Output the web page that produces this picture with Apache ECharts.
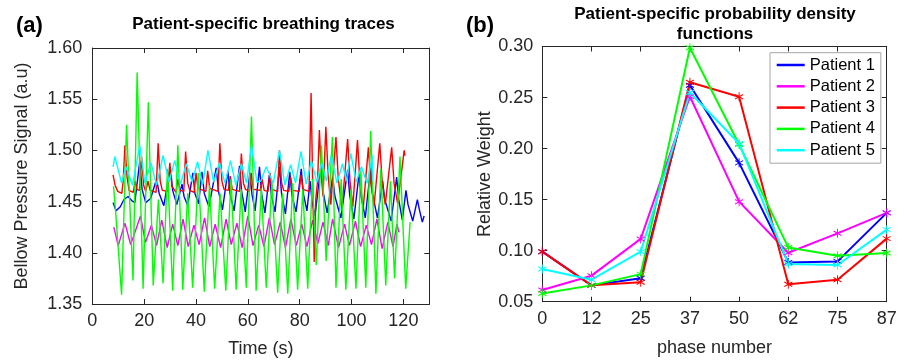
<!DOCTYPE html>
<html><head><meta charset="utf-8">
<script src="https://cdn.jsdelivr.net/npm/echarts@6/dist/echarts.min.js"></script>
<style>html,body{margin:0;padding:0;background:#fff}#c{width:909px;height:363px}</style>
</head><body><div id="c"></div>
<script>
const patientNames = ['Patient 1', 'Patient 2', 'Patient 3', 'Patient 4', 'Patient 5'];
const colors = ['#0000ff', '#ff00ff', '#ff0000', '#00ff00', '#00ffff'];

// Panel (a): breathing traces, [time (s), bellow pressure (a.u)]
const trace1 = [[8.0,1.449],[9.2,1.441],[10.8,1.445],[12.2,1.452],[13.8,1.455],[15.2,1.451],
 [16.4,1.449],[18.3,1.489],[19.2,1.462],[20.6,1.449],[22.5,1.453],[24.8,1.472],[25.8,1.458],
 [27.6,1.446],[30.1,1.484],[31.0,1.461],[32.6,1.447],[34.6,1.467],[35.4,1.455],[36.8,1.446],
 [38.8,1.478],[39.6,1.458],[41.0,1.448],[42.3,1.479],[43.2,1.458],[45.0,1.445],[47.8,1.483],
 [48.7,1.460],[50.2,1.442],[52.3,1.480],[53.1,1.458],[54.7,1.441],[56.8,1.485],[57.6,1.460],
 [59.0,1.440],[60.8,1.478],[61.6,1.457],[62.8,1.441],[64.5,1.484],[65.3,1.458],[66.6,1.439],
 [68.3,1.476],[69.1,1.456],[70.5,1.440],[72.2,1.484],[73.0,1.458],[74.5,1.438],[76.2,1.479],
 [77.0,1.456],[78.6,1.440],[80.6,1.482],[81.4,1.458],[82.8,1.441],[84.0,1.470],[84.8,1.450],
 [85.9,1.436],[88.2,1.485],[89.0,1.460],[90.6,1.439],[92.7,1.474],[93.6,1.455],[95.9,1.434],
 [98.5,1.481],[99.3,1.456],[100.9,1.433],[102.9,1.477],[103.7,1.455],[105.3,1.434],[107.4,1.484],
 [108.2,1.456],[110.0,1.434],[112.0,1.470],[112.8,1.452],[115.3,1.431],[117.4,1.474],[118.2,1.452],
 [119.6,1.432],[121.0,1.461],[121.8,1.447],[123.6,1.431],[125.4,1.452],[126.2,1.442],[127.3,1.430],[128.0,1.436]];
const trace2 = [[8.3,1.425],[10.0,1.407],[12.6,1.429],[14.8,1.408],[18.6,1.436],[20.5,1.410],
 [22.8,1.427],[24.8,1.407],[26.8,1.432],[28.9,1.405],[31.0,1.428],[33.0,1.407],[35.0,1.433],
 [37.0,1.406],[39.2,1.427],[41.2,1.408],[43.3,1.434],[45.3,1.406],[47.4,1.428],[49.5,1.405],
 [51.6,1.433],[53.6,1.408],[55.8,1.429],[57.8,1.405],[60.0,1.436],[62.0,1.407],[64.2,1.427],
 [66.2,1.406],[68.3,1.434],[70.3,1.408],[72.5,1.430],[74.5,1.405],[76.6,1.433],[78.7,1.407],
 [80.8,1.428],[82.8,1.406],[85.0,1.432],[87.0,1.409],[89.0,1.430],[91.0,1.407],[92.7,1.433],
 [95.0,1.405],[97.3,1.428],[99.2,1.407],[101.5,1.431],[103.5,1.406],[105.7,1.427],[107.7,1.408],
 [109.8,1.433],[111.8,1.404],[114.0,1.430],[116.0,1.406],[117.5,1.428],[118.3,1.420]];
const trace3 = [[8.0,1.476],[8.8,1.466],[9.8,1.460],[11.4,1.458],[11.9,1.470],[12.6,1.505],[13.4,1.474],
 [14.2,1.461],[15.8,1.459],[16.5,1.470],[17.2,1.462],[18.2,1.461],[19.0,1.494],[19.8,1.466],[20.6,1.460],
 [21.5,1.470],[22.3,1.461],[24.6,1.459],[25.4,1.507],[26.2,1.470],[27.0,1.461],[29.1,1.460],[29.9,1.488],
 [30.7,1.465],[32.3,1.459],[33.0,1.472],[33.8,1.461],[35.3,1.460],[36.0,1.499],[36.8,1.468],[37.6,1.461],
 [39.3,1.459],[40.0,1.478],[40.8,1.463],[43.8,1.460],[44.5,1.480],[45.3,1.463],[48.5,1.460],[49.2,1.507],
 [50.0,1.470],[50.8,1.462],[52.5,1.461],[53.2,1.475],[54.0,1.462],[56.8,1.460],[57.5,1.497],[58.3,1.468],
 [59.1,1.462],[60.6,1.460],[61.3,1.478],[62.1,1.462],[64.8,1.461],[65.5,1.472],[66.3,1.461],[67.8,1.460],
 [68.5,1.478],[69.3,1.462],[71.5,1.460],[72.2,1.500],[73.0,1.469],[73.8,1.461],[75.8,1.460],[76.5,1.474],
 [77.3,1.461],[79.8,1.460],[80.5,1.476],[81.3,1.462],[83.6,1.460],[84.4,1.556],[85.0,1.470],[85.6,1.391],
 [86.2,1.452],[86.9,1.470],[87.6,1.520],[88.4,1.475],[89.0,1.455],[90.1,1.523],[91.0,1.475],[92.0,1.447],
 [94.0,1.513],[94.9,1.472],[96.3,1.443],[98.5,1.511],[99.4,1.470],[100.5,1.445],[102.3,1.510],[103.2,1.470],
 [104.5,1.443],[106.5,1.503],[107.4,1.468],[108.7,1.446],[110.9,1.507],[111.8,1.470],[113.0,1.447],
 [115.5,1.503],[116.4,1.468],[117.8,1.448],[120.3,1.500],[120.6,1.495]];
const trace4 = [[8.2,1.465],[9.0,1.440],[11.3,1.359],[13.2,1.525],[15.7,1.373],[17.3,1.576],[19.6,1.365],
 [21.6,1.547],[23.5,1.368],[25.5,1.452],[27.3,1.370],[29.0,1.482],[31.0,1.363],[33.0,1.505],[34.9,1.364],
 [36.8,1.458],[38.7,1.366],[40.9,1.478],[43.2,1.362],[45.2,1.466],[47.2,1.365],[49.3,1.458],[51.5,1.363],
 [53.5,1.472],[55.5,1.364],[57.4,1.462],[59.4,1.366],[61.4,1.533],[63.2,1.363],[65.2,1.463],[67.1,1.366],
 [69.3,1.470],[71.5,1.361],[73.4,1.458],[75.4,1.360],[77.3,1.468],[79.2,1.364],[81.2,1.462],[83.1,1.365],
 [84.9,1.472],[86.4,1.388],[88.4,1.505],[90.2,1.392],[92.6,1.513],[94.0,1.366],[96.0,1.472],[97.8,1.364],
 [99.8,1.462],[101.7,1.365],[103.6,1.480],[105.5,1.366],[107.4,1.519],[109.4,1.360],[111.3,1.482],
 [113.2,1.368],[115.0,1.470],[116.6,1.375],[118.7,1.494],[120.9,1.365],[122.6,1.430]];
const trace5 = [[8.0,1.484],[8.7,1.494],[11.3,1.468],[13.0,1.484],[15.5,1.466],[18.3,1.505],[20.3,1.468],
 [22.6,1.488],[24.8,1.466],[27.3,1.495],[29.6,1.469],[31.8,1.490],[34.0,1.467],[36.3,1.487],[38.5,1.469],
 [40.6,1.489],[42.6,1.467],[44.6,1.500],[46.8,1.469],[49.0,1.488],[51.2,1.468],[53.3,1.490],[55.4,1.466],
 [57.5,1.487],[59.5,1.468],[61.4,1.505],[63.5,1.469],[65.0,1.470],[67.1,1.484],[69.8,1.468],[72.2,1.500],
 [74.3,1.466],[76.5,1.486],[78.4,1.468],[80.5,1.499],[82.5,1.467],[84.5,1.490],[86.6,1.469],[88.5,1.488],
 [90.3,1.470],[92.1,1.495],[94.4,1.468],[96.5,1.487],[98.0,1.470],[99.7,1.497],[101.8,1.469],[103.8,1.484],
 [106.0,1.468],[108.1,1.495],[108.2,1.470]];

// Panel (b): probability density functions
const phaseLabels = ['0', '12', '25', '37', '50', '62', '75', '87'];
const pdf1 = [0.099, 0.066, 0.073, 0.262, 0.186, 0.0885, 0.0895, 0.137];
const pdf2 = [0.0615, 0.0755, 0.1115, 0.251, 0.148, 0.098, 0.117, 0.137];
const pdf3 = [0.099, 0.066, 0.069, 0.265, 0.2507, 0.067, 0.0716, 0.1118];
const pdf4 = [0.058, 0.066, 0.077, 0.2987, 0.204, 0.103, 0.095, 0.0977];
const pdf5 = [0.082, 0.0716, 0.099, 0.255, 0.205, 0.087, 0.086, 0.1206];

const traces = [trace1, trace2, trace3, trace4, trace5];
const pdfs = [pdf1, pdf2, pdf3, pdf4, pdf5];

const FONT = '"Liberation Sans", Arial, Helvetica, sans-serif';
const INK = '#262626';
const TICKFS = 18;
const axisCommon = {
  axisLine: { show: true, onZero: false, lineStyle: { color: INK, width: 1 } },
  axisTick: { show: true, inside: true, length: 5, lineStyle: { color: INK } },
  splitLine: { show: false },
  axisLabel: { color: INK, fontSize: TICKFS, fontFamily: FONT },
  nameTextStyle: { color: INK, fontSize: 18, fontFamily: FONT }
};
function ax(extra) { return Object.assign({}, JSON.parse(JSON.stringify(axisCommon)), extra); }
const fmt2 = v => v.toFixed(2);

const asterisk = 'path://M0,-5L0,5M-4.33,-2.5L4.33,2.5M-4.33,2.5L4.33,-2.5';

const series = [];
traces.forEach((t, i) => {
  series.push({ type: 'line', name: 'trace' + (i + 1), xAxisIndex: 0, yAxisIndex: 0, data: t,
    showSymbol: false, symbol: 'none', lineStyle: { color: colors[i], width: 1.4 }, itemStyle: { color: colors[i] }, silent: true });
});
pdfs.forEach((p, i) => {
  series.push({ type: 'line', name: patientNames[i], xAxisIndex: 2, yAxisIndex: 2, data: p,
    symbol: asterisk, symbolSize: [8, 9], showSymbol: true,
    lineStyle: { color: colors[i], width: 2 },
    itemStyle: { color: colors[i], borderColor: colors[i], borderWidth: 1 } });
});

const chart = echarts.init(document.getElementById('c'), null, { renderer: 'canvas' });
chart.setOption({
  animation: false,
  backgroundColor: '#ffffff',
  grid: [
    { left: 92.3, top: 48, width: 337, height: 256.7 },
    { left: 542.3, top: 46.5, width: 344.4, height: 255.2 }
  ],
  xAxis: [
    ax({ type: 'value', gridIndex: 0, min: 0, max: 130, interval: 20, position: 'bottom',
         axisLabel: { color: INK, fontSize: TICKFS, fontFamily: FONT, margin: 8, showMaxLabel: false },
         name: 'Time (s)', nameLocation: 'middle', nameGap: 36 }),
    ax({ type: 'value', gridIndex: 0, min: 0, max: 130, interval: 20, position: 'top', axisLabel: { show: false } }),
    ax({ type: 'category', gridIndex: 1, data: phaseLabels, boundaryGap: false, position: 'bottom',
         axisLabel: { color: INK, fontSize: TICKFS, fontFamily: FONT, margin: 8, interval: 0 },
         name: 'phase number', nameLocation: 'middle', nameGap: 37 }),
    ax({ type: 'category', gridIndex: 1, data: phaseLabels, boundaryGap: false, position: 'top', axisLabel: { show: false } })
  ],
  yAxis: [
    ax({ type: 'value', gridIndex: 0, min: 1.35, max: 1.60, interval: 0.05, position: 'left',
         axisLabel: { color: INK, fontSize: TICKFS, fontFamily: FONT, margin: 10, formatter: fmt2 },
         name: 'Bellow Pressure Signal (a.u)', nameLocation: 'middle', nameGap: 61 }),
    ax({ type: 'value', gridIndex: 0, min: 1.35, max: 1.60, interval: 0.05, position: 'right', axisLabel: { show: false } }),
    ax({ type: 'value', gridIndex: 1, min: 0.05, max: 0.30, interval: 0.05, position: 'left',
         axisLabel: { color: INK, fontSize: TICKFS, fontFamily: FONT, margin: 9, formatter: fmt2 },
         name: 'Relative Weight', nameLocation: 'middle', nameGap: 46 }),
    ax({ type: 'value', gridIndex: 1, min: 0.05, max: 0.30, interval: 0.05, position: 'right', axisLabel: { show: false } })
  ],
  legend: {
    data: patientNames, orient: 'vertical', left: 770, top: 52.7,
    padding: [3.3, 6, 4, 6.7], itemGap: 3.3, itemWidth: 28, itemHeight: 2.5, icon: 'rect',
    itemStyle: { borderWidth: 0 },
    backgroundColor: '#ffffff', borderColor: '#a6a6a6', borderWidth: 1, borderRadius: 0,
    textStyle: { color: '#000', fontSize: 16.5, fontFamily: FONT, lineHeight: 18 },
    selectedMode: false
  },
  graphic: [
    { type: 'text', x: 16, y: 25.5, style: { text: '(a)', fill: '#000', font: 'bold 22px ' + FONT, align: 'left', verticalAlign: 'middle', textAlign: 'left', textVerticalAlign: 'middle' } },
    { type: 'text', x: 263.5, y: 24, style: { text: 'Patient-specific breathing traces', fill: '#000', font: 'bold 17px ' + FONT, align: 'center', verticalAlign: 'middle', textAlign: 'center', textVerticalAlign: 'middle' } },
    { type: 'text', x: 466, y: 25.5, style: { text: '(b)', fill: '#000', font: 'bold 22px ' + FONT, align: 'left', verticalAlign: 'middle', textAlign: 'left', textVerticalAlign: 'middle' } },
    { type: 'text', x: 715, y: 14, style: { text: 'Patient-specific probability density', fill: '#000', font: 'bold 17px ' + FONT, align: 'center', verticalAlign: 'middle', textAlign: 'center', textVerticalAlign: 'middle' } },
    { type: 'text', x: 715, y: 34.5, style: { text: 'functions', fill: '#000', font: 'bold 17px ' + FONT, align: 'center', verticalAlign: 'middle', textAlign: 'center', textVerticalAlign: 'middle' } }
  ],
  series: series
});
</script>
</body></html>
